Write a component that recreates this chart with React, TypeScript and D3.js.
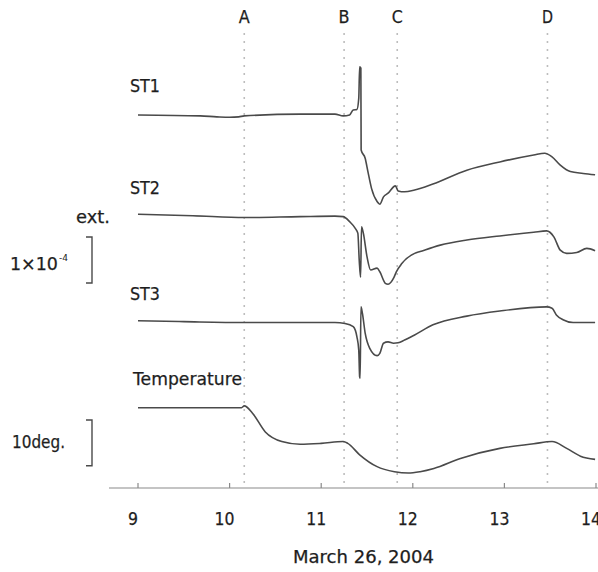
import * as d3 from 'd3'

// time in hours (March 26, 2004)
const hoursTicks = [9, 10, 11, 12, 13, 14]
const eventNames = ['A', 'B', 'C', 'D']
const eventTimes = [10.16, 11.25, 11.83, 13.47]

// strain records in units of 1e-6, relative to start
const st1Time = [9.0, 9.68, 9.86, 10.0, 10.1, 10.16, 10.77, 11.15, 11.24, 11.31, 11.35, 11.39, 11.41, 11.42, 11.433, 11.436, 11.48, 11.51, 11.55, 11.61, 11.64, 11.68, 11.73, 11.81, 11.84, 11.91, 12.02, 12.22, 12.59, 12.95, 13.32, 13.44, 13.52, 13.61, 13.72, 13.86, 13.99]
const st1Value = [0, -2, -4, -5, -4, -2, 2, 2, -2, 0, 11, 12, 36, 105, 102, -76, -94, -123, -160, -188, -194, -178, -170, -154, -165, -167, -163, -150, -120, -102, -87, -83, -91, -109, -123, -127, -130]

const st2Time = [9.0, 9.6, 10.16, 10.77, 11.15, 11.24, 11.31, 11.37, 11.40, 11.415, 11.43, 11.44, 11.46, 11.5, 11.54, 11.61, 11.64, 11.7, 11.73, 11.79, 11.82, 11.88, 12.02, 12.08, 12.3, 12.59, 12.95, 13.32, 13.46, 13.54, 13.61, 13.68, 13.79, 13.9, 13.99]
const st2Value = [0, -3, -7, -5, -4, -5, -16, -30, -41, -99, -137, -27, -41, -92, -121, -117, -125, -150, -152, -139, -125, -107, -85, -81, -67, -56, -47, -39, -36, -49, -78, -85, -83, -74, -79]

const st3Time = [9.0, 9.5, 10.16, 11.15, 11.26, 11.35, 11.39, 11.41, 11.42, 11.425, 11.434, 11.45, 11.48, 11.53, 11.61, 11.64, 11.68, 11.73, 11.79, 11.84, 11.91, 12.02, 12.22, 12.59, 12.95, 13.46, 13.52, 13.57, 13.64, 13.75, 13.99]
const st3Value = [0, -2, -4, -4, -6, -13, -35, -64, -122, -125, 30, 16, -27, -60, -76, -71, -49, -46, -49, -48, -42, -31, -9, 10, 21, 30, 27, 12, 2, -4, -4]

// temperature change in degrees
const tempTime = [9.0, 10.13, 10.16, 10.25, 10.39, 10.57, 10.77, 11.0, 11.24, 11.29, 11.42, 11.61, 11.8, 11.95, 12.08, 12.23, 12.52, 12.95, 13.32, 13.52, 13.68, 13.83, 13.99]
const tempValue = [0, 0, 0.4, -1.2, -5.3, -7.4, -8.0, -7.8, -7.4, -7.8, -10.3, -12.9, -14.0, -14.3, -14.0, -13.3, -11.1, -8.9, -7.9, -7.4, -8.9, -10.6, -11.3]

const W = 598
const H = 572
const axisY = 488
const ink = '#4a4a4a'
const font = 'DejaVu Sans, sans-serif'

const x = d3.scaleLinear().domain([9, 14]).range([138, 596])
// 100e-6 strain and 10 deg both span 46px
const strainY = (base: number) => d3.scaleLinear().domain([0, 100]).range([base, base - 46])
const tempY = d3.scaleLinear().domain([0, 10]).range([407.7, 407.7 - 45.7])

const traces = [
  { name: 'ST1', t: st1Time, v: st1Value, y: strainY(115), lx: 130, ly: 92 },
  { name: 'ST2', t: st2Time, v: st2Value, y: strainY(214.3), lx: 130, ly: 194 },
  { name: 'ST3', t: st3Time, v: st3Value, y: strainY(320.7), lx: 130, ly: 300 },
  { name: 'Temperature', t: tempTime, v: tempValue, y: tempY, lx: 133, ly: 385 },
]

const Txt = (p: any) => (
  <text fontFamily={font} fontSize={p.size || 17} fill="#1e1e1e" x={p.x} y={p.y}
    stroke="#1e1e1e" strokeWidth={0.25}
    textAnchor={p.anchor || 'start'} textLength={p.len} lengthAdjust="spacingAndGlyphs">
    {p.children}
  </text>
)

const Bracket = ({ x0, y0, y1 }: any) => (
  <path d={`M${x0 - 6},${y0}H${x0}V${y1}H${x0 - 6}`} fill="none" stroke={ink} strokeWidth={1.4} />
)

export default function App() {
  const sY = strainY(0)
  const strainBar = Math.abs(sY(100) - sY(0))
  return (
    <svg width={W} height={H} style={{ position: 'absolute', left: 0, top: 0, background: '#fff' }}>
      {eventTimes.map((t, i) => (
        <g key={eventNames[i]}>
          <line x1={x(t)} x2={x(t)} y1={33} y2={axisY} stroke="#bdbdbd" strokeWidth={1.6} strokeDasharray="2,6" />
          <Txt x={x(t)} y={23} anchor="middle" len={11}>{eventNames[i]}</Txt>
        </g>
      ))}

      {traces.map(tr => {
        const line = d3.line<number>()
          .x((_, i) => x(tr.t[i]))
          .y(d => tr.y(d))
          .curve(d3.curveMonotoneX)
        return (
          <g key={tr.name}>
            <path d={line(tr.v) || ''} fill="none" stroke={ink} strokeWidth={1.6} strokeLinejoin="round" />
            <Txt x={tr.lx} y={tr.ly} len={tr.name === 'Temperature' ? 109 : 30}>{tr.name}</Txt>
          </g>
        )
      })}

      <Txt x={76} y={223} len={34}>ext.</Txt>
      <Txt x={10} y={270} len={48}>1×10</Txt>
      <text fontFamily={font} fontSize={9} fill="#222" x={59} y={261}>-4</text>
      <Bracket x0={92} y0={237} y1={237 + strainBar} />

      <Txt x={12} y={448} len={53}>10deg.</Txt>
      <Bracket x0={92} y0={420} y1={420 + Math.abs(tempY(10) - tempY(0))} />

      <line x1={109} x2={598} y1={axisY} y2={axisY} stroke="#8a8a8a" strokeWidth={1.2} />
      {hoursTicks.map(h => (
        <g key={h}>
          <line x1={x(h)} x2={x(h)} y1={axisY} y2={axisY - 5} stroke="#8a8a8a" strokeWidth={1.2} />
          <Txt x={x(h) - 5} y={525} anchor="middle" len={h < 10 ? 10 : 20}>{h}</Txt>
        </g>
      ))}
      <Txt x={293} y={563} len={141}>March 26, 2004</Txt>
    </svg>
  )
}
